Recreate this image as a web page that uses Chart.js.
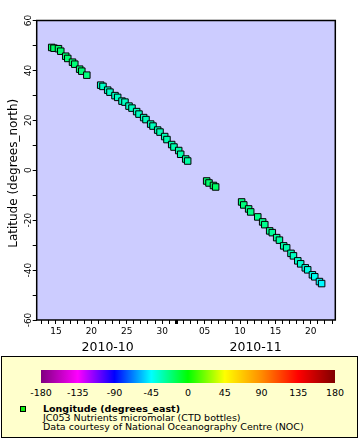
<!DOCTYPE html>
<html>
<head>
<meta charset="utf-8">
<script src="https://cdn.jsdelivr.net/npm/chart.js@4.4.0/dist/chart.umd.min.js"></script>
<style>
  body { margin: 0; background: #fff; font-family: "DejaVu Sans", sans-serif; }
  #wrap { position: relative; width: 360px; height: 440px; overflow: hidden; }
  #graph { position: absolute; left: 0; top: 0; }
  #legend { position: absolute; left: 1px; top: 356px; width: 357px; height: 82px; box-sizing: border-box;
            background: #ffffcc; border: 1px solid #000; }
  #bar { position: absolute; left: 41px; top: 370px; width: 294px; height: 13px; }
  .cb { position: absolute; top: 387px; font-size: 9.5px; line-height: 12px; transform: translateX(-50%); white-space: nowrap; }
  #mark { position: absolute; left: 19.5px; top: 406px; width: 6px; height: 6px; box-sizing: border-box;
          background: #11ee11; border: 1px solid #000; }
  .ln { position: absolute; left: 43px; font-size: 9.5px; line-height: 9.5px; white-space: nowrap; }
</style>
</head>
<body>
<div id="wrap">
  <canvas id="graph" width="360" height="440"></canvas>
  <div id="legend"></div>
  <div id="bar"></div>
  <div id="mark"></div>
  <div class="ln" id="l1" style="top:403.7px;font-weight:bold"></div>
  <div class="ln" id="l2" style="top:412.7px"></div>
  <div class="ln" id="l3" style="top:421.5px"></div>
</div>
<script>
// day number counted from 2010-10-01 (Oct 15 = 15, Nov 1 = 32)
const days = [
  14.40, 14.72, 15.36, 15.68, 16.38, 16.67, 17.34, 17.66, 18.35, 18.65, 19.36,
  21.32, 21.64, 22.31, 22.63, 23.34, 23.72, 24.33, 24.75, 25.32, 25.74, 26.40, 26.73, 27.39,
  27.72, 28.38, 28.71, 29.37, 29.70, 30.36, 30.68, 31.35, 31.67, 32.34, 32.62, 33.33, 33.61,
  36.29, 36.62, 37.25, 37.56,
  41.23, 41.53, 42.22, 42.51, 43.51, 44.20, 44.50, 45.19, 45.56, 46.18, 46.57, 47.17,
  47.59, 48.20, 48.55, 49.16, 49.57, 50.22, 50.56, 51.23, 51.56, 52.22, 52.53
];
const lat = [
  49.2, 48.9, 48.7, 47.7, 45.7, 44.8, 43.3, 42.5, 40.5, 39.7, 38.1,
  34.1, 33.6, 32.1, 31.3, 29.9, 29.2, 27.7, 27.3, 25.7, 24.9, 23.5, 22.5, 21.1,
  20.3, 18.5, 17.7, 16.1, 15.3, 13.5, 12.3, 10.3, 9.3, 7.9, 6.4, 4.5, 3.7,
  -4.3, -5.1, -6.1, -6.7,
  -12.7, -13.9, -15.5, -16.7, -18.7, -20.7, -21.8, -24.3, -25.0, -27.0, -28.0, -30.3,
  -31.1, -33.3, -34.3, -36.3, -37.5, -39.1, -39.9, -41.9, -42.7, -44.6, -45.4
];
const lon = [
  -18, -18, -19, -19, -20, -20, -20, -21, -21, -21, -22,
  -35, -35, -35, -35, -35, -35, -35, -34, -34, -34, -34, -34, -33,
  -33, -33, -33, -32, -32, -32, -31, -31, -31, -30, -30, -29, -29,
  -19, -19, -18, -18,
  -22, -22, -23, -23, -24, -25, -25, -26, -27, -28, -29, -30,
  -31, -33, -34, -36, -37, -39, -40, -42, -43, -45, -46
];

const xLabelDays = [15, 20, 25, 30, 36, 41, 46, 51];
const xLabels = ['15', '20', '25', '30', '05', '10', '15', '20'];
const monthDays = [22.3, 43.2];
const monthLabels = ['2010-10', '2010-11'];
const yLabels = [-60, -40, -20, 0, 20, 40, 60];
const cbTicks = [-180, -135, -90, -45, 0, 45, 90, 135, 180];
const cbColors = ['#800080', '#ff00ff', '#0000ff', '#00ffff', '#00ff00', '#ffff00', '#ff8c00', '#ff0000', '#800000'];

const FONT = '"DejaVu Sans", sans-serif';

function hex(c) {
  return [parseInt(c.slice(1, 3), 16), parseInt(c.slice(3, 5), 16), parseInt(c.slice(5, 7), 16)];
}
function lonColor(v) {
  let i = Math.min(cbTicks.length - 2, Math.max(0, Math.floor((v + 180) / 45)));
  const t = (v - cbTicks[i]) / 45;
  const a = hex(cbColors[i]), b = hex(cbColors[i + 1]);
  const c = a.map((x, k) => Math.round(x + (b[k] - x) * t));
  return 'rgb(' + c.join(',') + ')';
}

// legend box
document.getElementById('bar').style.background =
  'linear-gradient(to right,' + cbColors.map((c, i) => c + ' ' + (i * 12.5) + '%').join(',') + ')';
cbTicks.forEach((v, i) => {
  const s = document.createElement('div');
  s.className = 'cb';
  s.style.left = (41 + i * 294 / 8) + 'px';
  s.textContent = v;
  document.getElementById('wrap').appendChild(s);
});
document.getElementById('l1').textContent = 'Longitude (degrees_east)';
document.getElementById('l2').textContent = 'JC053 Nutrients micromolar (CTD bottles)';
document.getElementById('l3').textContent = 'Data courtesy of National Oceanography Centre (NOC)';

const frame = {
  id: 'frame',
  beforeDatasetsDraw(chart) {
    const a = chart.chartArea, c = chart.ctx;
    c.save();
    c.fillStyle = '#ccccff';
    c.fillRect(a.left, a.top, a.right - a.left, a.bottom - a.top);
    c.strokeStyle = '#000';
    c.lineWidth = 1.5;
    c.strokeRect(a.left, a.top, a.right - a.left, a.bottom - a.top);
    c.restore();
  },
  afterDraw(chart) {
    const c = chart.ctx, y = chart.scales.y, a = chart.chartArea;
    c.save();
    c.fillStyle = '#000';
    c.textAlign = 'center';
    c.textBaseline = 'middle';
    c.font = '9px ' + FONT;
    yLabels.forEach(v => {
      c.save();
      c.translate(29, y.getPixelForValue(v));
      c.rotate(-Math.PI / 2);
      c.fillText(String(v), 0, 0);
      c.restore();
    });
    c.font = '12px ' + FONT;
    c.translate(14, (a.top + a.bottom) / 2 + 3);
    c.rotate(-Math.PI / 2);
    c.fillText('Latitude (degrees_north)', 0, 0);
    c.restore();
  }
};

const ctx = document.getElementById('graph').getContext('2d');
new Chart(ctx, {
  type: 'scatter',
  data: {
    datasets: [{
      data: days.map((d, i) => ({ x: d, y: lat[i] })),
      pointStyle: 'rect',
      pointRadius: 4.6,
      pointBorderWidth: 1,
      pointBorderColor: '#000',
      pointBackgroundColor: lon.map(lonColor)
    }]
  },
  options: {
    responsive: false,
    animation: false,
    layout: { padding: { top: 20.5, right: 24.7, left: 0, bottom: 0 } },
    plugins: { legend: { display: false }, tooltip: { enabled: false } },
    scales: {
      x: {
        type: 'linear', min: 12.28, max: 54.46,
        afterBuildTicks: s => {
          const t = [];
          for (let d = 13; d <= 54; d++) t.push({ value: d });
          s.ticks = t;
        },
        afterFit: s => { s.height = 20; },
        border: { display: false },
        grid: {
          drawOnChartArea: false, tickLength: 4, color: '#000',
          tickWidth: c => (c.tick && c.tick.value === 32 ? 3 : 1)
        },
        ticks: {
          autoSkip: false, maxRotation: 0, color: '#000', padding: 2,
          font: { family: FONT, size: 9 },
          callback: v => { const i = xLabelDays.indexOf(v); return i < 0 ? '' : xLabels[i]; }
        }
      },
      x2: {
        type: 'linear', position: 'bottom', min: 12.28, max: 54.46,
        afterBuildTicks: s => { s.ticks = monthDays.map(v => ({ value: v })); },
        afterFit: s => { s.height = 100; },
        border: { display: false },
        grid: { display: false, drawTicks: false },
        ticks: {
          autoSkip: false, maxRotation: 0, color: '#000', padding: 0,
          font: { family: FONT, size: 12.5 },
          callback: (v, i) => monthLabels[i]
        }
      },
      y: {
        min: -60, max: 60,
        afterBuildTicks: s => {
          const t = [];
          for (let v = -60; v <= 60; v += 10) t.push({ value: v });
          s.ticks = t;
        },
        afterFit: s => { s.width = 36.7; },
        border: { display: false },
        grid: { drawOnChartArea: false, tickLength: 4, color: '#000' },
        ticks: { display: false }
      }
    }
  },
  plugins: [frame]
});
</script>
</body>
</html>
